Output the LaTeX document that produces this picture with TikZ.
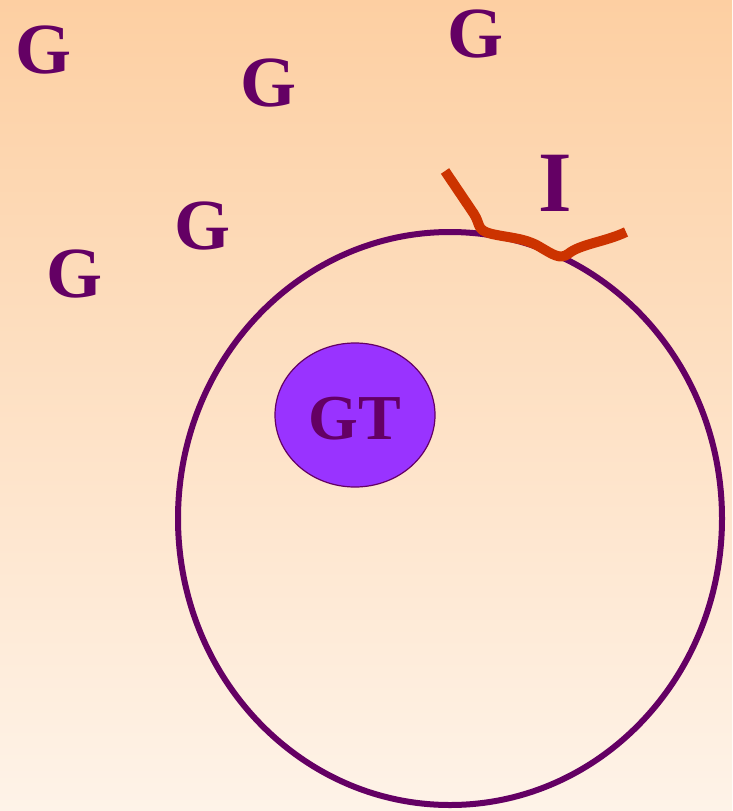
\documentclass[tikz,border=0pt]{standalone}
\usepackage{fontspec}
\usetikzlibrary{shapes.geometric}
\setmainfont{Liberation Serif}
\definecolor{bgtop}{HTML}{FDCFA2}
\definecolor{bgbot}{HTML}{FEF3E8}
\definecolor{plum}{HTML}{640064}
\definecolor{violetfill}{HTML}{9933FF}
\definecolor{rust}{HTML}{CC3300}
\begin{document}
\begin{tikzpicture}[x=1pt,y=-1pt,
  glabel/.style={text=plum,font=\fontsize{72}{72}\selectfont\bfseries,anchor=base,inner sep=0pt},
  ilabel/.style={text=plum,font=\fontsize{86}{86}\selectfont\bfseries,anchor=base,inner sep=0pt}]
  % background gradient
  \shade[top color=bgtop,bottom color=bgbot] (0,0) rectangle (732,811);
  \useasboundingbox (0,0) rectangle (732,811);
  % cell membrane
  \draw[plum,line width=6pt] (450,518.5) ellipse [x radius=272,y radius=286.5];
  % nucleus
  \node[ellipse,draw=plum,line width=1.2pt,fill=violetfill,minimum width=160pt,minimum height=144pt,inner sep=0pt] (gt) at (355,415) {};
  \node[text=plum,font=\fontsize{64}{64}\selectfont\bfseries,anchor=base,inner sep=0pt] (gtl) at (355,439) {GT};
  % receptor
  \draw[rust,line width=10pt,line join=round] (445,171) -- (474,214)
    .. controls (481,225) and (476,230) .. (492,234)
    .. controls (510,238) and (525,238) .. (540,247)
    .. controls (552,254) and (560,260) .. (568,254)
    .. controls (580,244) and (605,242) .. (626,232);
  % ligands
  \node[glabel] (g1) at (44,73) {G};
  \node[glabel] (g2) at (268,106) {G};
  \node[glabel] (g3) at (475,57) {G};
  \node[glabel] (g4) at (203,249) {G};
  \node[glabel] (g5) at (75,297) {G};
  \node[ilabel] (i) at (555,211) {I};
\end{tikzpicture}
\end{document}
